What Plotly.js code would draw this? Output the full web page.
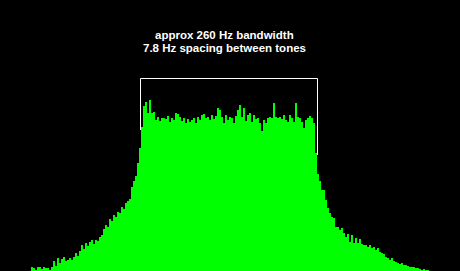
<!DOCTYPE html>
<html>
<head>
<meta charset="utf-8">
<script src="https://cdn.plot.ly/plotly-3.0.1.min.js"></script>
<style>html,body{margin:0;padding:0;background:#000;}#chart{width:460px;height:271px;}</style>
</head>
<body>
<div id="chart"></div>
<script>
// Spectrum bins (each bin one FFT slot), levels
var firstBin = 0;
var binStep = 1;
var levels = [
  0, 4, 3, 1, 4, 4, 2, 4, 3, 3,
  1, 4, 10, 5, 13, 8, 12, 14, 10, 11,
  13, 11, 14, 18, 15, 20, 26, 22, 28, 25,
  29, 31, 27, 31, 30, 34, 36, 42, 46, 44,
  52, 50, 56, 54, 59, 58, 64, 62, 68, 70,
  72, 84, 90, 95, 108, 123, 144, 165, 169, 158,
  171, 158, 159, 151, 154, 150, 153, 153, 152, 155,
  149, 153, 151, 158, 157, 154, 150, 153, 148, 152,
  149, 151, 153, 148, 154, 151, 156, 157, 153, 154,
  151, 156, 152, 155, 163, 161, 154, 148, 156, 151,
  154, 153, 148, 155, 161, 166, 154, 163, 150, 156,
  158, 149, 156, 152, 153, 148, 140, 151, 148, 153,
  154, 153, 168, 154, 153, 154, 152, 156, 151, 149,
  156, 153, 149, 168, 154, 153, 149, 143, 151, 153,
  155, 153, 148, 118, 97, 90, 81, 81, 71, 63,
  58, 54, 53, 44, 44, 41, 43, 38, 34, 37,
  29, 36, 28, 33, 28, 32, 27, 26, 26, 24,
  26, 23, 24, 21, 23, 19, 18, 17, 14, 13,
  11, 13, 10, 9, 8, 7, 8, 6, 6, 5,
  4, 4, 4, 3, 3, 2, 1, 2, 1, 1,
  0
];
var titleLines = ["approx 260 Hz bandwidth", "7.8 Hz spacing between tones"];
// Bracket marking the bandwidth: [leftBin, rightBin, topLevel, leftBottom, rightBottom]
var bracket = [55.25, 143.75, 192.5, 141, 116];

var trace = {
  type: 'bar',
  x0: firstBin, dx: binStep,
  y: levels,
  width: 1,
  marker: {color: '#00ff00', line: {width: 0}},
  hoverinfo: 'none'
};

var layout = {
  width: 460, height: 271,
  margin: {l: 0, r: 0, t: 0, b: 0},
  paper_bgcolor: '#000000',
  plot_bgcolor: '#000000',
  bargap: 0,
  showlegend: false,
  xaxis: {range: [-15, 215], visible: false, fixedrange: true},
  yaxis: {range: [0, 271], visible: false, fixedrange: true},
  shapes: [{
    type: 'path', xref: 'x', yref: 'y',
    path: 'M ' + bracket[0] + ',' + bracket[3] + ' L ' + bracket[0] + ',' + bracket[2] +
          ' L ' + bracket[1] + ',' + bracket[2] + ' L ' + bracket[1] + ',' + bracket[4],
    line: {color: '#ffffff', width: 1}
  }],
  annotations: [
    {text: '<b>' + titleLines[0] + '</b>', xref: 'paper', yref: 'paper', x: 0.489, y: 0.872,
     xanchor: 'center', yanchor: 'middle', showarrow: false,
     font: {family: 'Liberation Sans, Arial, sans-serif', size: 11.5, color: '#ffffff'}},
    {text: '<b>' + titleLines[1] + '</b>', xref: 'paper', yref: 'paper', x: 0.489, y: 0.824,
     xanchor: 'center', yanchor: 'middle', showarrow: false,
     font: {family: 'Liberation Sans, Arial, sans-serif', size: 11.5, color: '#ffffff'}}
  ]
};

Plotly.newPlot('chart', [trace], layout, {staticPlot: true, displayModeBar: false});
</script>
</body>
</html>
